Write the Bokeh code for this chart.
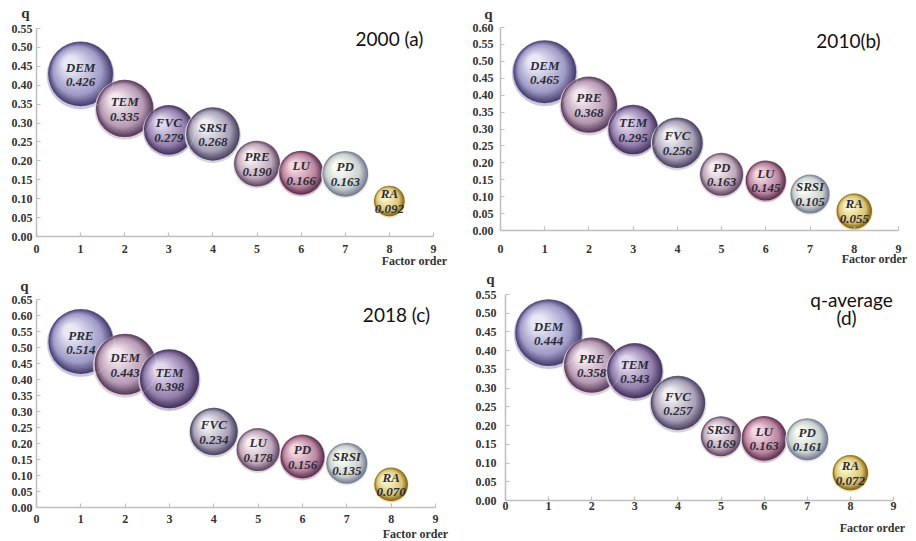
from bokeh.plotting import figure
from bokeh.layouts import column, row
from bokeh.models import Label, Range1d, FixedTicker, PrintfTickFormatter, ColumnDataSource
from bokeh.core.properties import value
from bokeh.embed import file_html
from bokeh.resources import INLINE

# ---------------- data ----------------
order = [1, 2, 3, 4, 5, 6, 7, 8]

factors_a = ["DEM", "TEM", "FVC", "SRSI", "PRE", "LU", "PD", "RA"]
q_a = [0.426, 0.335, 0.279, 0.268, 0.190, 0.166, 0.163, 0.092]
bubble_a = [0.462, 0.360, 0.270, 0.314, 0.230, 0.212, 0.230, 0.102]

factors_b = ["DEM", "PRE", "TEM", "FVC", "PD", "LU", "SRSI", "RA"]
q_b = [0.465, 0.368, 0.295, 0.256, 0.163, 0.145, 0.105, 0.055]
bubble_b = [0.436, 0.348, 0.270, 0.281, 0.203, 0.176, 0.168, 0.137]

factors_c = ["PRE", "DEM", "TEM", "FVC", "LU", "PD", "SRSI", "RA"]
q_c = [0.514, 0.443, 0.398, 0.234, 0.178, 0.156, 0.135, 0.070]
bubble_c = [0.462, 0.410, 0.384, 0.250, 0.203, 0.212, 0.185, 0.123]

factors_d = ["DEM", "PRE", "TEM", "FVC", "SRSI", "LU", "PD", "RA"]
q_d = [0.444, 0.358, 0.343, 0.257, 0.169, 0.163, 0.161, 0.072]
bubble_d = [0.490, 0.336, 0.336, 0.325, 0.176, 0.221, 0.194, 0.137]

titles = [["2000 (a)"], ["2010(b)"], ["2018 (c)"], ["q-average", "(d)"]]
y_max = [0.55, 0.60, 0.65, 0.55]
x_ticks = [0, 1, 2, 3, 4, 5, 6, 7, 8, 9]
y_step = 0.05
x_caption = "Factor order"
y_caption = "q"

# ---------------- styles ----------------
SIZE_SCALE = 100.0  # px diameter = SIZE_SCALE * sqrt(bubble)
POS_COLORS = [  # (edge, mid, highlight, rim)
    ("#4a4272", "#a09cc8", "#e8e8f6", "#c8c4e2"),
    ("#583e5c", "#b69ab4", "#f4e6ee", "#e2ccda"),
    ("#46365e", "#937eac", "#e2d8ee", "#c8bad8"),
    ("#4e4664", "#a8a0b6", "#f0f0f4", "#d6d2de"),
    ("#604a68", "#c0a8b8", "#f8eff3", "#e4d4dc"),
    ("#5a3453", "#ba849e", "#f6d8e2", "#e1bac8"),
    ("#787c94", "#cad2ce", "#fafcf6", "#e8eee8"),
    ("#84641a", "#dac576", "#fcf6cc", "#eedf9e"),
]
AXIS_COLOR = "#bfbfbf"
TEXT_COLOR = "#333333"
LABEL_COLOR = "#2c2c38"
SERIF = "Liberation Serif"


def hex_rgb(h):
    h = h.lstrip("#")
    return tuple(int(h[i:i + 2], 16) for i in (0, 2, 4))


def lerp(c1, c2, t):
    a, b = hex_rgb(c1), hex_rgb(c2)
    return "#%02x%02x%02x" % tuple(int(round(a[i] + (b[i] - a[i]) * t)) for i in range(3))


def make_panel(factors, qs, bubbles, ymax, cfg, title_lines):
    W, H = cfg["W"], cfg["H"]
    x0, x9, yt, y0 = cfg["frame"]  # pixel placement of the axes inside the canvas
    sx = (x9 - x0) / 9.0
    sy = (y0 - yt) / ymax
    xr = Range1d(-x0 / sx, 9 + (W - x9) / sx)
    yr = Range1d(-(H - y0) / sy, ymax + yt / sy)
    p = figure(width=W, height=H, x_range=xr, y_range=yr,
               output_backend="svg", toolbar_location=None,
               min_border=0, min_border_left=0, min_border_right=0,
               min_border_top=0, min_border_bottom=0)
    p.title.visible = False
    p.outline_line_color = None
    p.grid.visible = False
    p.background_fill_color = "white"
    p.border_fill_color = "white"

    n = int(round(ymax / y_step))
    yticks = [round(i * y_step, 2) for i in range(n + 1)]
    for ax in (p.xaxis[0], p.yaxis[0]):
        ax.fixed_location = 0
        ax.axis_line_color = AXIS_COLOR
        ax.axis_line_width = 1.5
        ax.major_tick_line_color = AXIS_COLOR
        ax.major_tick_line_width = 1.2
        ax.major_tick_in = 4
        ax.major_tick_out = 0
        ax.minor_tick_line_color = None
        ax.major_label_text_font = SERIF
        ax.major_label_text_font_style = "bold"
        ax.major_label_text_font_size = "12px"
        ax.major_label_text_color = TEXT_COLOR
    p.xaxis[0].bounds = (0, 9)
    p.yaxis[0].bounds = (0, ymax)
    p.xaxis[0].ticker = FixedTicker(ticks=x_ticks)
    p.yaxis[0].ticker = FixedTicker(ticks=yticks)
    p.yaxis[0].formatter = PrintfTickFormatter(format="%.2f")
    p.xaxis[0].major_label_standoff = cfg["xs"]
    p.yaxis[0].major_label_standoff = cfg["ys"]

    # sphere-like bubbles built from layered circles
    ux = 1.0 / sx
    uy = 1.0 / sy
    xs_, ys_, ss_, cs_ = [], [], [], []
    N = 20
    for i, (xo, qv, bv) in enumerate(zip(order, qs, bubbles)):
        edge, mid, hi, rim = POS_COLORS[i]
        d = SIZE_SCALE * bv ** 0.5
        Rr = d / 2.0
        xs_.append(xo); ys_.append(qv); ss_.append(d); cs_.append(rim)
        lift = 0.045 * Rr
        xs_.append(xo); ys_.append(qv + lift * uy); ss_.append(d * 0.955); cs_.append(edge)
        for k in range(1, N + 1):
            t = k / N
            dd = d * 0.955 * (1 - 0.78 * t)
            ox = -0.30 * Rr * t
            oy = 0.30 * Rr * t
            if t < 0.30:
                c = lerp(edge, mid, t / 0.30)
            else:
                c = lerp(mid, hi, (t - 0.30) / 0.70)
            xs_.append(xo + ox * ux); ys_.append(qv + (lift + oy) * uy); ss_.append(dd); cs_.append(c)
    src = ColumnDataSource(dict(x=xs_, y=ys_, size=ss_, color=cs_))
    p.scatter("x", "y", size="size", fill_color="color", line_color=None, marker="circle", source=src)

    # faint outlines so overlaps read as translucent
    p.scatter(order, qs, size=[SIZE_SCALE * b ** 0.5 for b in bubbles], marker="circle",
              fill_color=None, line_color="#ffffff", line_alpha=0.22, line_width=1)

    p.text(order, qs, text=factors, text_font=value(SERIF), text_font_style="bold italic",
           text_font_size="13px", text_color=LABEL_COLOR, text_align="center",
           text_baseline="middle", y_offset=-8)
    p.text(order, qs, text=["%.3f" % v for v in qs], text_font=value(SERIF),
           text_font_style="bold italic", text_font_size="13px", text_color=LABEL_COLOR,
           text_align="center", text_baseline="middle", y_offset=7)

    # axis captions (screen units, measured from the canvas bottom-left)
    qx, qb = cfg["q"]
    p.add_layout(Label(x=qx, y=H - qb, x_units="screen", y_units="screen", text=y_caption,
                       text_font=SERIF, text_font_style="bold", text_font_size="15px",
                       text_color=TEXT_COLOR, text_align="center", text_baseline="alphabetic"))
    fx, fb = cfg["fo"]
    p.add_layout(Label(x=fx, y=H - fb, x_units="screen", y_units="screen",
                       text=x_caption, text_font=SERIF, text_font_style="bold",
                       text_font_size="12px", text_color=TEXT_COLOR, text_align="center",
                       text_baseline="alphabetic"))
    # panel title
    for j, line in enumerate(title_lines):
        tx, ty = cfg["tpos"][j]
        p.add_layout(Label(x=tx, y=H - ty, x_units="screen", y_units="screen", text=line,
                           text_font="Lato", text_font_size="19px", text_color="#111111",
                           text_align="center", text_baseline="middle"))
    return p


cfg_a = dict(W=458, H=270, frame=(36, 433, 28, 236), xs=8, ys=4,
             q=(25, 12), fo=(414, 260), tpos=[(389, 38)])
cfg_b = dict(W=458, H=270, frame=(42, 440, 27, 230), xs=14, ys=7,
             q=(30, 13), fo=(416, 258), tpos=[(390, 40)])
cfg_c = dict(W=458, H=271, frame=(36, 435, 29, 237), xs=7, ys=4,
             q=(24, 15), fo=(415, 263), tpos=[(396, 44)])
cfg_d = dict(W=458, H=271, frame=(47, 435, 24, 230), xs=1, ys=9,
             q=(32, 8), fo=(414, 257), tpos=[(393, 29), (388, 47)])

pa = make_panel(factors_a, q_a, bubble_a, y_max[0], cfg_a, titles[0])
pb = make_panel(factors_b, q_b, bubble_b, y_max[1], cfg_b, titles[1])
pc = make_panel(factors_c, q_c, bubble_c, y_max[2], cfg_c, titles[2])
pd = make_panel(factors_d, q_d, bubble_d, y_max[3], cfg_d, titles[3])

layout = column(row(pa, pb), row(pc, pd))
open("out.html", "w").write(file_html(layout, INLINE))
